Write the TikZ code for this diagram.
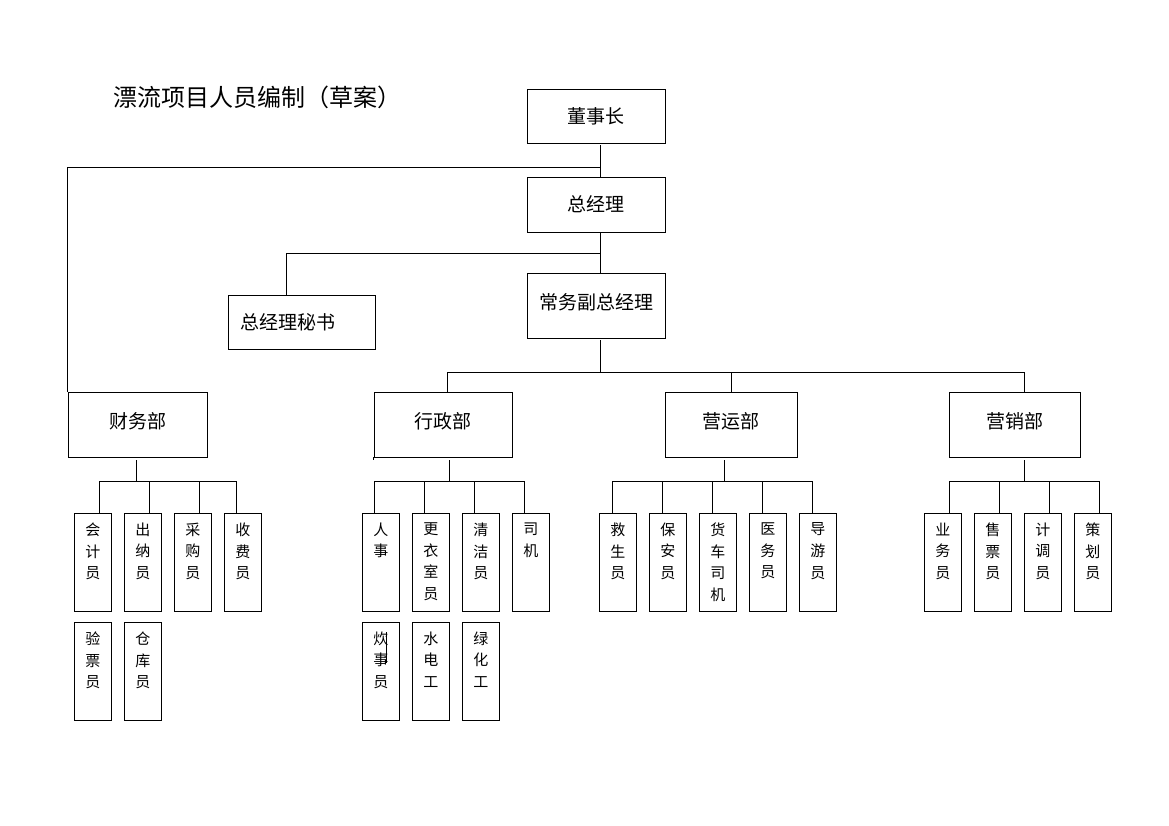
\documentclass[tikz,border=0pt]{standalone}
\usepackage{fontspec}
\setmainfont{Noto Sans CJK SC}
\newcommand\subunit[4]{%
  \node[sub] (#1) at (#2,#3) {};
  \node[subtxt] (#1t) at ([yshift=-9.5pt]#1.north) {#4};}
\begin{document}
\begin{tikzpicture}[x=1pt,y=-1pt,
  box/.style={draw,line width=0.9pt,inner sep=0pt,font=\fontsize{19}{22}\selectfont},
  lift/.style={text height=14pt,text depth=6pt},
  sub/.style={draw,line width=0.9pt,anchor=north west,minimum width=37pt,minimum height=98pt,inner sep=0pt},
  subtxt/.style={anchor=north,align=center,inner sep=0pt,font=\fontsize{15}{21.7}\selectfont},
  conn/.style={line width=0.9pt}]
\useasboundingbox (0,0) rectangle (1169,826);
\fill[white] (0,0) rectangle (1169,826);

\node[anchor=west,inner sep=0pt,font=\fontsize{24}{28}\selectfont] (title) at (113,97) {漂流项目人员编制（草案）};

\node[box,minimum width=138pt,minimum height=54pt] (dsz) at (596,116) {董事长};
\node[box,minimum width=138pt,minimum height=55pt] (zjl) at (596,204.5) {总经理};
\node[box,lift,minimum width=138pt,minimum height=65pt] (cw) at (596,305.5) {常务副总经理};
\node[box,minimum height=54pt,text width=123pt,inner xsep=12pt,align=left] (mis) at (301.5,322) {总经理秘书};

\node[box,lift,minimum width=139pt,minimum height=65pt] (cwb) at (137.5,424.5) {财务部};
\node[box,lift,minimum width=138pt,minimum height=65pt] (xz) at (443,424.5) {行政部};
\node[box,lift,minimum width=132pt,minimum height=65pt] (yy) at (731,424.5) {营运部};
\node[box,lift,minimum width=131pt,minimum height=65pt] (yx) at (1014.5,424.5) {营销部};

% finance
\subunit{f1}{74}{513}{会\\计\\员}
\subunit{f2}{124}{513}{出\\纳\\员}
\subunit{f3}{174}{513}{采\\购\\员}
\subunit{f4}{224}{513}{收\\费\\员}
\subunit{f5}{74}{622}{验\\票\\员}
\subunit{f6}{124}{622}{仓\\库\\员}
% admin
\subunit{a1}{362}{513}{人\\事}
\subunit{a2}{412}{513}{更\\衣\\室\\员}
\subunit{a3}{462}{513}{清\\洁\\员}
\subunit{a4}{512}{513}{司\\机}
\subunit{a5}{362}{622}{炊\\事\\员}
\subunit{a6}{412}{622}{水\\电\\工}
\subunit{a7}{462}{622}{绿\\化\\工}
% operations
\subunit{o1}{599}{513}{救\\生\\员}
\subunit{o2}{649}{513}{保\\安\\员}
\subunit{o3}{699}{513}{货\\车\\司\\机}
\subunit{o4}{749}{513}{医\\务\\员}
\subunit{o5}{799}{513}{导\\游\\员}
% marketing
\subunit{m1}{924}{513}{业\\务\\员}
\subunit{m2}{974}{513}{售\\票\\员}
\subunit{m3}{1024}{513}{计\\调\\员}
\subunit{m4}{1074}{513}{策\\划\\员}

% junctions
\coordinate (j1) at (600,167);
\coordinate (j2) at (600,253);
\coordinate (j3) at (600,372);
\coordinate (fb) at (136.5,481);
\coordinate (ab) at (449,481);
\coordinate (ob) at (724,481);
\coordinate (mb) at (1024,481);

% top connectors
\draw[conn,shorten <=2pt] ([xshift=4pt]dsz.south) -- ([xshift=4pt]zjl.north);
\draw[conn] (j1) -| (cwb.north west);
\draw[conn] ([xshift=4pt]zjl.south) -- ([xshift=4pt]cw.north);
\draw[conn] (j2) -| ([xshift=-15pt]mis.north);
\draw[conn,shorten <=2pt] ([xshift=4pt]cw.south) -- (j3);
\draw[conn] (j3) -| ([xshift=4pt]xz.north);
\draw[conn] (j3) -| (yy.north);
\draw[conn] (j3) -| ([xshift=9.5pt]yx.north);

% department to staff
\draw[conn,shorten <=3pt] ([xshift=-1pt]cwb.south) -- (fb);
\draw[conn] (fb) -| ([xshift=6.5pt]f1.north);
\draw[conn] (fb) -| ([xshift=6.5pt]f2.north);
\draw[conn] (fb) -| ([xshift=6.5pt]f3.north);
\draw[conn] (fb) -| ([xshift=-6.5pt]f4.north);

\draw[conn,shorten <=3pt] ([xshift=6pt]xz.south) -- (ab);
\draw[conn] (ab) -| ([xshift=-6.5pt]a1.north);
\draw[conn] (ab) -| ([xshift=-6.5pt]a2.north);
\draw[conn] (ab) -| ([xshift=-6.5pt]a3.north);
\draw[conn] (ab) -| ([xshift=-6.5pt]a4.north);
\draw[conn] (xz.south west) -- ++(0,3);

\draw[conn,shorten <=3pt] ([xshift=-7pt]yy.south) -- (ob);
\draw[conn] (ob) -| ([xshift=-5.5pt]o1.north);
\draw[conn] (ob) -| ([xshift=-5.5pt]o2.north);
\draw[conn] (ob) -| ([xshift=-5.5pt]o3.north);
\draw[conn] (ob) -| ([xshift=-5.5pt]o4.north);
\draw[conn] (ob) -| ([xshift=-5.5pt]o5.north);

\draw[conn,shorten <=3pt] ([xshift=9.5pt]yx.south) -- (mb);
\draw[conn] (mb) -| ([xshift=6.5pt]m1.north);
\draw[conn] (mb) -| ([xshift=6.5pt]m2.north);
\draw[conn] (mb) -| ([xshift=6.5pt]m3.north);
\draw[conn] (mb) -| ([xshift=6.5pt]m4.north);

% stray mark in the cook box
\draw[conn] ([xshift=5.5pt,yshift=-10pt]a5.north) -- ++(0,31);
\end{tikzpicture}
\end{document}
